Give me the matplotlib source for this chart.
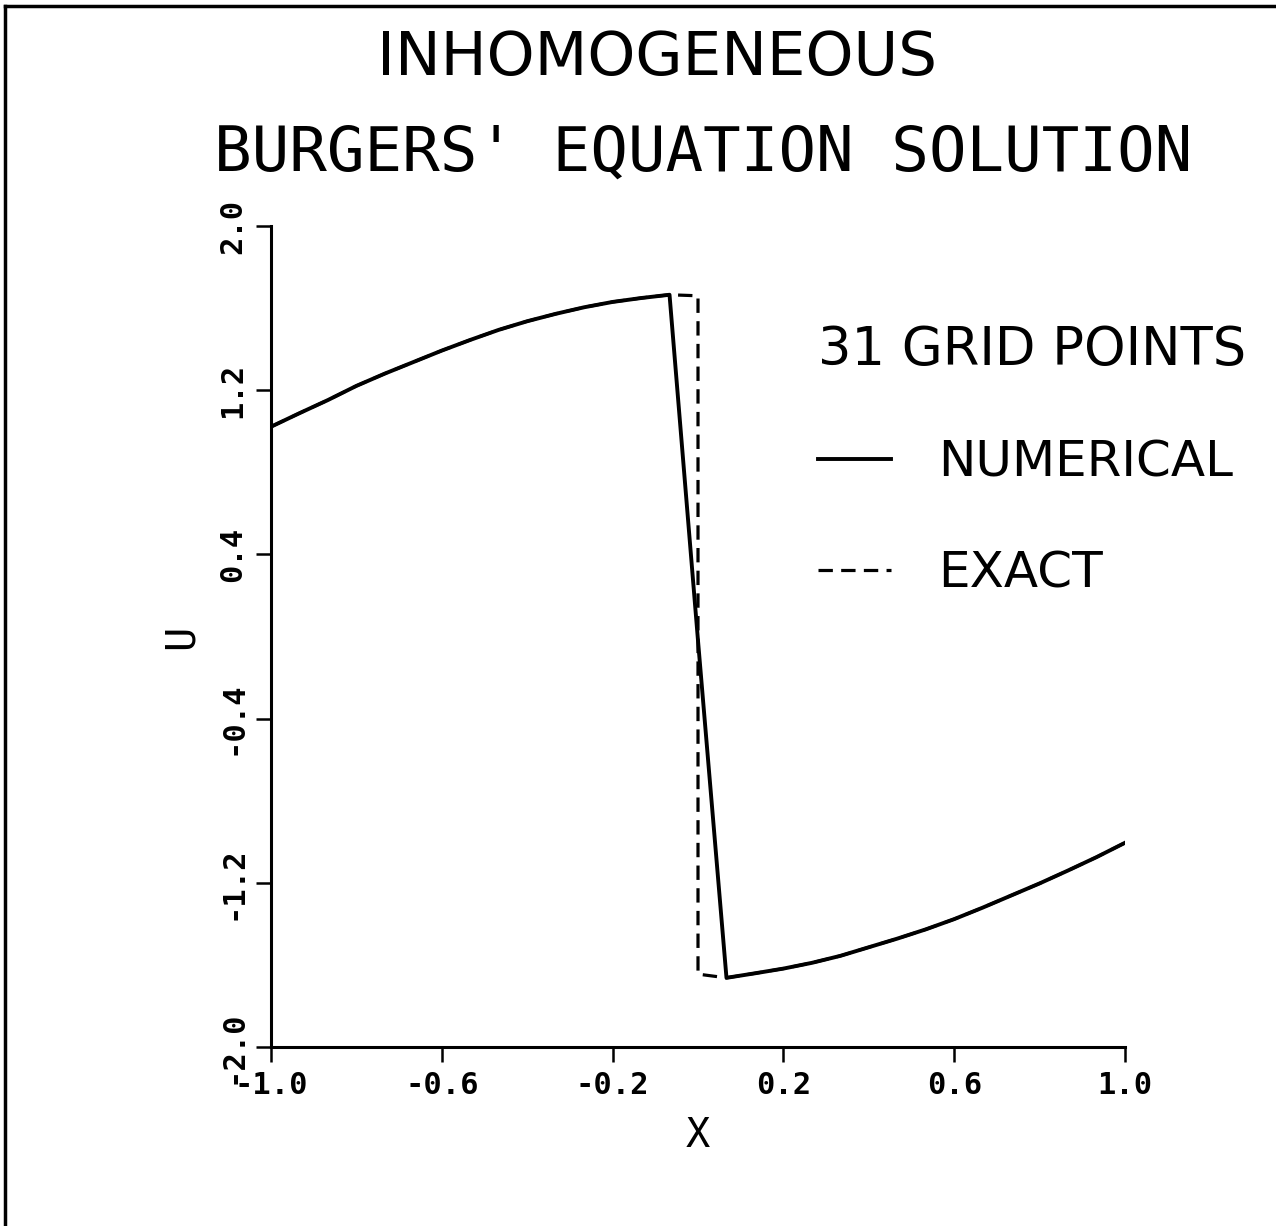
import matplotlib
matplotlib.use("Agg")
import matplotlib.pyplot as plt
from matplotlib.lines import Line2D

# ---- data ----
grid_x = [-1.0, -0.9333, -0.8667, -0.8, -0.7333, -0.6667, -0.6, -0.5333, -0.4667, -0.4,
          -0.3333, -0.2667, -0.2, -0.1333, -0.0667, 0.0, 0.0667, 0.1333, 0.2, 0.2667,
          0.3333, 0.4, 0.4667, 0.5333, 0.6, 0.6667, 0.7333, 0.8, 0.8667, 0.9333, 1.0]
numerical_u = [1.022, 1.088, 1.152, 1.221, 1.281, 1.337, 1.393, 1.445, 1.494, 1.536,
               1.572, 1.604, 1.630, 1.649, 1.665, -0.02, -1.663, -1.641, -1.618, -1.590,
               -1.556, -1.514, -1.472, -1.427, -1.377, -1.321, -1.262, -1.203, -1.140, -1.075, -1.005]
exact_x = [-1.0, -0.9333, -0.8667, -0.8, -0.7333, -0.6667, -0.6, -0.5333, -0.4667, -0.4,
           -0.3333, -0.2667, -0.2, -0.1333, -0.0667, 0.0, 0.0, 0.0667, 0.1333, 0.2, 0.2667,
           0.3333, 0.4, 0.4667, 0.5333, 0.6, 0.6667, 0.7333, 0.8, 0.8667, 0.9333, 1.0]
exact_u = [1.022, 1.088, 1.152, 1.221, 1.281, 1.337, 1.393, 1.445, 1.494, 1.536,
           1.572, 1.604, 1.630, 1.649, 1.665, 1.660, -1.645, -1.663, -1.641, -1.618, -1.590,
           -1.556, -1.514, -1.472, -1.427, -1.377, -1.321, -1.262, -1.203, -1.140, -1.075, -1.005]
x_ticks = [-1.0, -0.6, -0.2, 0.2, 0.6, 1.0]
x_tick_labels = ["-1.0", "-0.6", "-0.2", "0.2", "0.6", "1.0"]
y_ticks = [-2.0, -1.2, -0.4, 0.4, 1.2, 2.0]
y_tick_labels = ["-2.0", "-1.2", "-0.4", "0.4", "1.2", "2.0"]

W, H = 1276, 1226
fig = plt.figure(figsize=(W / 100, H / 100), dpi=100)
fig.patch.set_facecolor("white")

ax = fig.add_axes([271 / W, 1 - 1047 / H, (1125 - 271) / W, (1047 - 226) / H])

ax.plot(grid_x, numerical_u, color="black", lw=2.8, solid_joinstyle="round",
        label="NUMERICAL")
ax.plot(exact_x, exact_u, color="black", lw=2.3, linestyle=(0, (4.5, 2.6)),
        label="EXACT")

ax.set_xlim(-1.0, 1.0)
ax.set_ylim(-2.0, 2.0)

for s in ["top", "right"]:
    ax.spines[s].set_visible(False)
for s in ["left", "bottom"]:
    ax.spines[s].set_linewidth(2.2)

mono = "DejaVu Sans Mono"
ax.set_xticks(x_ticks)
ax.set_xticklabels(x_tick_labels, family=mono, fontsize=22, fontweight="bold")
ax.set_yticks(y_ticks)
ax.set_yticklabels(y_tick_labels, family=mono, fontsize=22, fontweight="bold",
                   rotation=90, va="center")
ax.tick_params(direction="out", length=11, width=1.8, pad=6)

ax.set_xlabel("X", family=mono, fontsize=29, labelpad=12)
ax.set_ylabel("U", family=mono, fontsize=29, labelpad=12)

leg = ax.legend(loc="upper left", bbox_to_anchor=(818 / W, 1 - 324 / H),
                bbox_transform=fig.transFigure, frameon=False,
                title="31 GRID POINTS", title_fontsize=38, fontsize=36,
                alignment="left", handlelength=1.45, handletextpad=0.95,
                labelspacing=1.25, borderpad=0, borderaxespad=0)
for t in leg.get_texts():
    t.set_family("DejaVu Sans")
leg.get_title().set_family("DejaVu Sans")

fig.text(657 / W, 1 - 59 / H, "INHOMOGENEOUS", ha="center", va="center",
         fontsize=44, family="DejaVu Sans")
fig.text(703 / W, 1 - 154 / H, "BURGERS' EQUATION SOLUTION", ha="center",
         va="center", fontsize=45, family=mono)

# page border (left and top edges of the scanned frame)
fig.add_artist(Line2D([5 / W, 5 / W], [0, 1 - 6 / H], transform=fig.transFigure,
                      color="black", lw=2.5))
fig.add_artist(Line2D([5 / W, 1], [1 - 6 / H, 1 - 6 / H], transform=fig.transFigure,
                      color="black", lw=2.5))

fig.savefig("out.png", dpi=100, facecolor="white")
